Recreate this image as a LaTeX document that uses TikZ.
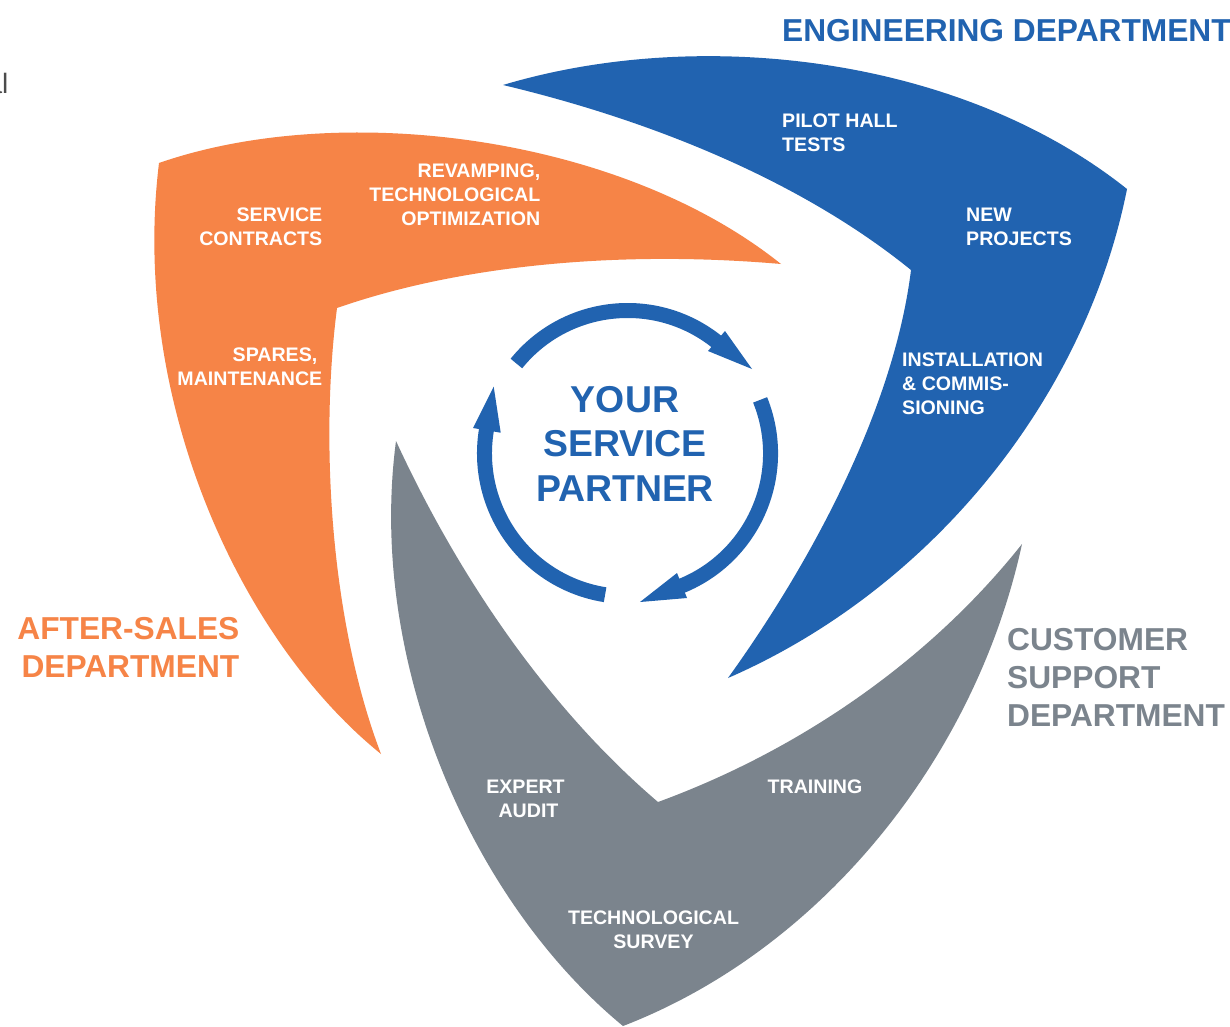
\documentclass[tikz,border=0pt]{standalone}
\usepackage{fontspec}
\setmainfont{Liberation Sans}
\definecolor{eng}{HTML}{2163B0}
\definecolor{aft}{HTML}{F68447}
\definecolor{cus}{HTML}{7B848D}
\tikzset{
 lab/.style={font=\fontsize{19.6}{24}\selectfont\bfseries,text=white,inner sep=0pt,align=left},
 labr/.style={lab,align=right},
 labc/.style={lab,align=center},
 dept/.style={font=\fontsize{31.7}{38}\selectfont\bfseries,inner sep=0pt},
 ring/.style={draw=eng,line width=15pt},
 tip/.style={fill=eng,draw=none}
}
\begin{document}
\begin{tikzpicture}[x=1pt,y=-1pt]
\useasboundingbox (0,0) rectangle (1230,1026);
\fill[white] (0,0) rectangle (1230,1026);
% blue
\fill[eng] (503,85) .. controls (700,26) and (960,56) .. (1127,189)
  .. controls (1085,400) and (930,590) .. (728,678)
  .. controls (820,550) and (895,400) .. (911,270)
  .. controls (800,180) and (650,120) .. (503,85) -- cycle;
% orange
\fill[aft] (159,163) .. controls (340,100) and (620,135) .. (781,264)
  .. controls (620,250) and (460,265) .. (337,308)
  .. controls (320,440) and (330,620) .. (381,754)
  .. controls (240,640) and (130,400) .. (159,163) -- cycle;
% gray
\fill[cus] (396,441) .. controls (460,580) and (550,710) .. (658,802)
  .. controls (800,750) and (930,660) .. (1022,544)
  .. controls (975,760) and (820,950) .. (623,1026)
  .. controls (470,900) and (367,660) .. (396,441) -- cycle;
% ring
\draw[ring] (516.4,363.5) arc[start angle=219,end angle=309,radius=143];
\fill[tip] (752,369) -- (708,351) -- (725,331) -- cycle;
\draw[ring] (760.1,399.9) arc[start angle=-22,end angle=68,radius=143];
\fill[tip] (640,602) -- (677,573) -- (687,598) -- cycle;
\draw[ring] (605.1,594.7) arc[start angle=99,end angle=190,radius=143];
\fill[tip] (493.7,386.7) -- (473,428) -- (500.7,432.7) -- cycle;
% texts
\node[lab,anchor=north west] (pilot) at (782,114) {PILOT HALL\\TESTS};
\node[lab,anchor=north west] (newp) at (966,208) {NEW\\PROJECTS};
\node[lab,anchor=north west] (inst) at (902,353) {INSTALLATION\\\& COMMIS-\\SIONING};
\node[labr,anchor=north east] (rev) at (540.5,164) {REVAMPING,\\TECHNOLOGICAL\\OPTIMIZATION};
\node[labr,anchor=north east] (serv) at (322.5,208) {SERVICE\\CONTRACTS};
\node[labr,anchor=north east] (spar) at (322.5,348) {SPARES,\hspace*{5pt}\\MAINTENANCE};
\node[labc,anchor=north] (exp) at (525.5,780) {EXPERT\\\hspace*{6pt}AUDIT};
\node[labc,anchor=north] (train) at (815,780) {TRAINING};
\node[labc,anchor=north] (tech) at (653.5,911) {TECHNOLOGICAL\\SURVEY};
\node[dept,text=eng,anchor=north west] (engd) at (782,19) {ENGINEERING DEPARTMENT};
\node[dept,text=aft,anchor=north east,align=right] (aftd) at (239.5,617) {AFTER-SALES\\DEPARTMENT};
\node[dept,text=cus,anchor=north west,align=left] (cusd) at (1007,628) {CUSTOMER\\SUPPORT\\DEPARTMENT};
\node[font=\fontsize{37.4}{44.5}\selectfont\bfseries,text=eng,align=center,inner sep=0pt,anchor=north] (yours) at (625,386) {YOUR\\SERVICE\\PARTNER};
\begin{scope}
\clip (0,0) rectangle (1230,1026);
\node[font=\fontsize{28}{32}\selectfont,text=black!70,inner sep=0pt,anchor=base east] (frag) at (8.5,93) {al};
\end{scope}
\end{tikzpicture}
\end{document}
